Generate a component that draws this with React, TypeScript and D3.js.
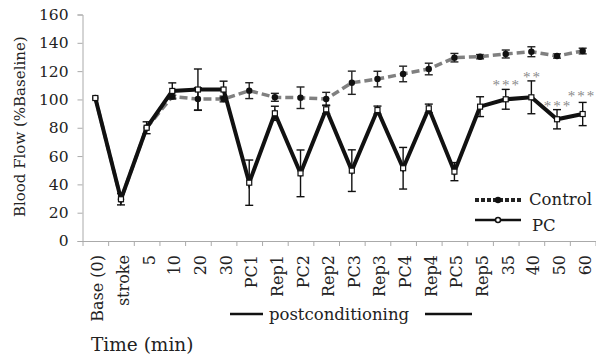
import React, { useEffect, useRef } from "react";
import * as d3 from "d3";

// categories along the x axis
const categories = [
  "Base (0)", "stroke", "5", "10", "20", "30",
  "PC1", "Rep1", "PC2", "Rep2", "PC3", "Rep3", "PC4", "Rep4", "PC5", "Rep5",
  "35", "40", "50", "60",
];

const controlValues = [
  101, 29.5, 80, 102, 100.3, 100.3, 106.2, 101.5, 101.2, 100.3,
  111.8, 114.4, 118, 121.5, 129.5, 130.2, 132.1, 133.7, 130.7, 134.2,
];
const controlErrors = [
  0, 0, 0, 1, 8, 2, 5.6, 2.8, 7.6, 4.7,
  8.2, 5.5, 5.5, 4.1, 3, 1.5, 2.8, 3.5, 1.5, 2,
];

const pcValues = [
  101, 29.5, 80, 106, 107, 107, 41.2, 90.2, 47.8, 93,
  49.7, 92.5, 51.4, 93.7, 49, 94.9, 100.1, 101.5, 86, 89.7,
];
const pcErrors = [
  0, 4, 4.2, 5.7, 14.5, 5.9, 16, 5, 16.5, 3,
  14.7, 2.8, 14.7, 3, 6.4, 7, 7, 11.6, 6.8, 8.2,
];

// significance marks above PC points
const stars = [
  { cat: "35", label: "***" },
  { cat: "40", label: "**" },
  { cat: "50", label: "***" },
  { cat: "60", label: "***" },
];

const yTicks = [0, 20, 40, 60, 80, 100, 120, 140, 160];

const FONT = "DejaVu Serif";

export default function App() {
  const svgRef = useRef<SVGSVGElement>(null);

  useEffect(() => {
    if (!svgRef.current) return;
    const svg = d3.select(svgRef.current);
    svg.selectAll("*").remove();

    const width = 596;
    const height = 355;
    const left = 82.5;
    const right = 595.5;
    const bottom = 241;
    const top = 14.5;

    const x = d3.scaleBand<string>().domain(categories).range([left, right]).padding(0);
    const cx = (c: string) => (x(c) || 0) + x.bandwidth() / 2;
    const y = d3.scaleLinear().domain([0, 160]).range([bottom, top]);

    svg.attr("width", width).attr("height", height);

    // y axis
    const yAxis = svg
      .append("g")
      .attr("transform", `translate(${left},0)`)
      .call(d3.axisLeft(y).tickValues(yTicks).tickSize(5).tickPadding(9));
    yAxis.select(".domain").attr("stroke", "#aaa");
    yAxis.selectAll(".tick line").attr("stroke", "#aaa");
    yAxis
      .selectAll(".tick text")
      .attr("font-family", FONT)
      .attr("font-size", "15.5px")
      .attr("fill", "#222");

    // x axis ticks at band boundaries
    const idx = d3.scaleLinear().domain([0, categories.length]).range([left, right]);
    const xAxis = svg
      .append("g")
      .attr("transform", `translate(0,${bottom})`)
      .call(
        d3
          .axisBottom(idx)
          .tickValues(d3.range(0, categories.length + 1))
          .tickSize(5)
          .tickSizeOuter(0)
          .tickFormat(() => "")
      );
    xAxis.select(".domain").attr("stroke", "#aaa");
    xAxis.selectAll(".tick line").attr("stroke", "#aaa");

    // rotated category labels
    svg
      .append("g")
      .selectAll("text")
      .data(categories)
      .enter()
      .append("text")
      .attr("transform", (d) => `translate(${cx(d) + 8},${bottom + 14}) rotate(-90)`)
      .attr("text-anchor", "end")
      .attr("font-family", FONT)
      .attr("font-size", "16px")
      .attr("fill", "#222")
      .text((d) => d);

    // postconditioning bracket
    svg
      .append("line")
      .attr("x1", 230).attr("x2", 263).attr("y1", 314).attr("y2", 314)
      .attr("stroke", "#111").attr("stroke-width", 2.5);
    svg
      .append("line")
      .attr("x1", 425).attr("x2", 472).attr("y1", 314).attr("y2", 314)
      .attr("stroke", "#111").attr("stroke-width", 2.5);
    svg
      .append("text")
      .attr("x", 339)
      .attr("y", 320)
      .attr("text-anchor", "middle")
      .attr("font-family", FONT)
      .attr("font-size", "16.5px")
      .attr("fill", "#222")
      .text("postconditioning");

    svg
      .append("text")
      .attr("x", 91)
      .attr("y", 351)
      .attr("font-family", FONT)
      .attr("font-size", "18.5px")
      .attr("fill", "#222")
      .text("Time (min)");

    // y title
    svg
      .append("text")
      .attr("transform", `translate(25,${(top + bottom) / 2 - 1}) rotate(-90)`)
      .attr("text-anchor", "middle")
      .attr("font-family", FONT)
      .attr("font-size", "15px")
      .attr("fill", "#222")
      .text("Blood Flow (%Baseline)");

    const line = d3
      .line<number>()
      .x((_, i) => cx(categories[i]))
      .y((d) => y(d));

    const errorBars = (values: number[], errors: number[], color: string) => {
      const g = svg.append("g").attr("stroke", color).attr("stroke-width", 1.4);
      values.forEach((v, i) => {
        const e = errors[i];
        if (!e) return;
        const px = cx(categories[i]);
        g.append("line").attr("x1", px).attr("x2", px).attr("y1", y(v - e)).attr("y2", y(v + e));
        g.append("line").attr("x1", px - 4).attr("x2", px + 4).attr("y1", y(v - e)).attr("y2", y(v - e));
        g.append("line").attr("x1", px - 4).attr("x2", px + 4).attr("y1", y(v + e)).attr("y2", y(v + e));
      });
    };

    // control series
    errorBars(controlValues, controlErrors, "#222");
    svg
      .append("path")
      .datum(controlValues)
      .attr("d", line)
      .attr("fill", "none")
      .attr("stroke", "#808080")
      .attr("stroke-width", 3.5)
      .attr("stroke-dasharray", "8,4");
    svg
      .append("g")
      .selectAll("circle")
      .data(controlValues)
      .enter()
      .append("circle")
      .attr("cx", (_, i) => cx(categories[i]))
      .attr("cy", (d) => y(d))
      .attr("r", 3.2)
      .attr("fill", "#111");

    // PC series
    errorBars(pcValues, pcErrors, "#111");
    svg
      .append("path")
      .datum(pcValues)
      .attr("d", line)
      .attr("fill", "none")
      .attr("stroke", "#111")
      .attr("stroke-width", 4)
      .attr("stroke-linejoin", "miter");
    svg
      .append("g")
      .selectAll("rect")
      .data(pcValues)
      .enter()
      .append("rect")
      .attr("x", (_, i) => cx(categories[i]) - 2.5)
      .attr("y", (d) => y(d) - 2.5)
      .attr("width", 5)
      .attr("height", 5)
      .attr("fill", "#fff")
      .attr("stroke", "#111")
      .attr("stroke-width", 1.2);

    // significance stars (kept inside the right edge, lifted when crowding the previous one)
    const starW = 24;
    let prevRight = -Infinity;
    let prevY = 0;
    const starPos = stars.map((s) => {
      const i = categories.indexOf(s.cat);
      const sx = Math.min(cx(s.cat) + 1, width - starW / 2 - 2);
      let sy = y(pcValues[i] + pcErrors[i]) + 1;
      if (sx - starW / 2 < prevRight && Math.abs(sy - prevY) < 10) sy = prevY - 10;
      prevRight = sx + starW / 2;
      prevY = sy;
      return { ...s, sx, sy };
    });
    svg
      .append("g")
      .selectAll("text")
      .data(starPos)
      .enter()
      .append("text")
      .attr("x", (d) => d.sx)
      .attr("y", (d) => d.sy)
      .attr("text-anchor", "middle")
      .attr("font-family", "Liberation Serif")
      .attr("font-size", "15px")
      .attr("letter-spacing", "2px")
      .attr("fill", "#8a8a8a")
      .text((d) => d.label);

    // legend
    const lg = svg.append("g");
    lg.append("line")
      .attr("x1", 475).attr("x2", 521).attr("y1", 200).attr("y2", 200)
      .attr("stroke", "#222").attr("stroke-width", 4).attr("stroke-dasharray", "4,2");
    lg.append("circle").attr("cx", 498).attr("cy", 200).attr("r", 3.2).attr("fill", "#111");
    lg.append("text")
      .attr("x", 529).attr("y", 205)
      .attr("font-family", FONT).attr("font-size", "16.5px").attr("fill", "#222")
      .text("Control");
    lg.append("line")
      .attr("x1", 475).attr("x2", 521).attr("y1", 220).attr("y2", 220)
      .attr("stroke", "#111").attr("stroke-width", 2.5);
    lg.append("circle")
      .attr("cx", 498).attr("cy", 220).attr("r", 2.5)
      .attr("fill", "#fff").attr("stroke", "#111").attr("stroke-width", 1.5);
    lg.append("text")
      .attr("x", 532).attr("y", 231)
      .attr("font-family", FONT).attr("font-size", "16.5px").attr("fill", "#222")
      .text("PC");
  }, []);

  return (
    <div style={{ position: "absolute", left: 0, top: 0 }}>
      <svg ref={svgRef} style={{ display: "block" }} />
    </div>
  );
}
